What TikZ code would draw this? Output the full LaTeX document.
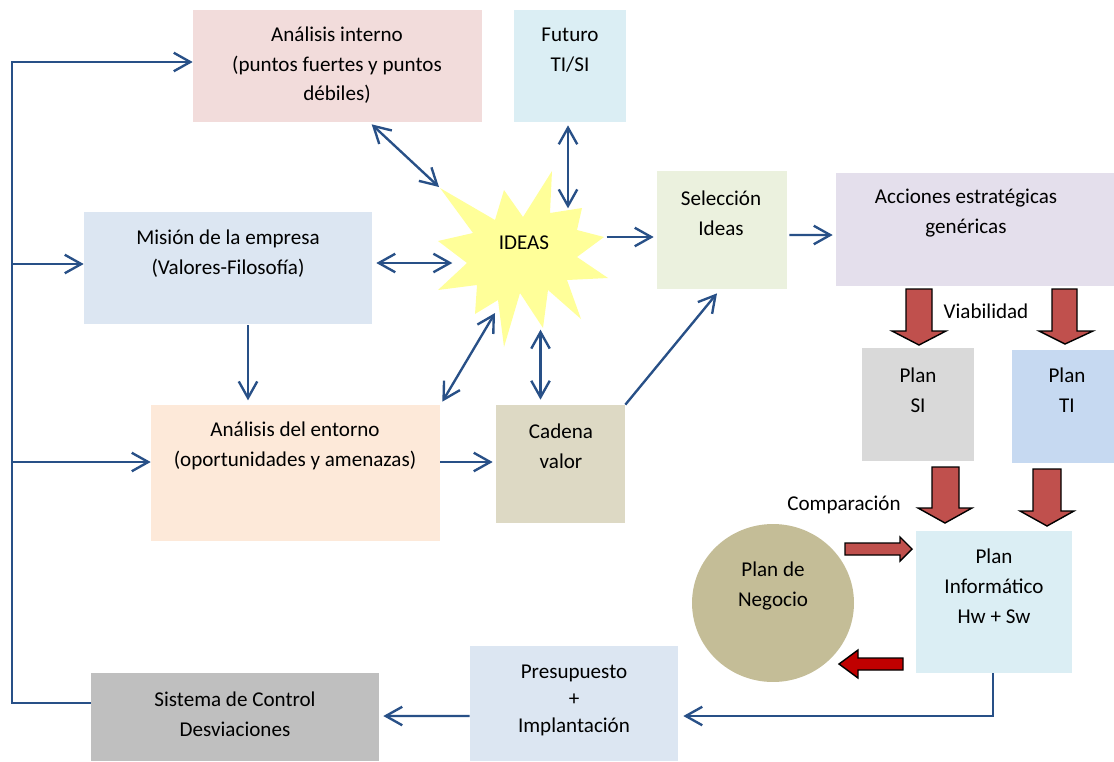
\documentclass[tikz,border=0pt]{standalone}
\usepackage{fontspec}
\setmainfont{Carlito}
\usetikzlibrary{arrows.meta,calc,shapes.geometric}

\definecolor{cInterno}{HTML}{F2DCDB}
\definecolor{cFuturo}{HTML}{DBEEF4}
\definecolor{cMision}{HTML}{DCE6F2}
\definecolor{cSeleccion}{HTML}{EBF1DE}
\definecolor{cAcciones}{HTML}{E4DFEC}
\definecolor{cEntorno}{HTML}{FDE9D9}
\definecolor{cCadena}{HTML}{DDD9C4}
\definecolor{cPlanSI}{HTML}{D9D9D9}
\definecolor{cPlanTI}{HTML}{C6D9F1}
\definecolor{cNegocio}{HTML}{C4BD97}
\definecolor{cSistema}{HTML}{BFBFBF}
\definecolor{cStar}{HTML}{FFFF99}
\definecolor{linkblue}{RGB}{40,80,135}
\definecolor{blockred}{HTML}{C0504D}
\definecolor{blockdark}{HTML}{C00000}

\tikzset{
  box/.style={draw=none, inner sep=0pt, rectangle},
  lbl/.style={align=center, inner sep=0pt, yshift=-0.045cm, font=\fontsize{12}{17}\selectfont},
  conn/.style={draw=linkblue, line width=1.35pt},
  barb/.tip={Straight Barb[length=0.33cm,width=0.37cm]},
  arr/.style={conn, -barb},
  darr/.style={conn, barb-barb},
  blk/.style={fill=blockred, draw=black, line width=0.8pt, line join=miter},
}

\begin{document}
\begin{tikzpicture}[x=0.02cm, y=-0.02cm]
\useasboundingbox (0,0) rectangle (1114,761);

% ---------- boxes ----------
\node[box, fill=cInterno,  minimum width=5.78cm, minimum height=2.24cm] (interno)     at (337.5,66)  {};
\node[box, fill=cFuturo,   minimum width=2.24cm, minimum height=2.24cm] (futuro)      at (570,66)    {};
\node[box, fill=cMision,   minimum width=5.76cm, minimum height=2.24cm] (mision)      at (228,268)   {};
\node[box, fill=cSeleccion,minimum width=2.60cm, minimum height=2.36cm] (seleccion)   at (722,230)   {};
\node[box, fill=cAcciones, minimum width=5.56cm, minimum height=2.26cm] (acciones)    at (975,229.5) {};
\node[box, fill=cEntorno,  minimum width=5.78cm, minimum height=2.72cm] (entorno)     at (295.5,473) {};
\node[box, fill=cCadena,   minimum width=2.58cm, minimum height=2.36cm] (cadena)      at (560.5,464) {};
\node[box, fill=cPlanSI,   minimum width=2.24cm, minimum height=2.26cm] (planSI)      at (918,404.5) {};
\node[box, fill=cPlanTI,   minimum width=2.04cm, minimum height=2.26cm] (planTI)      at (1063,406.5){};
\node[box, fill=cFuturo,   minimum width=3.12cm, minimum height=2.84cm] (informatico) at (994,602)   {};
\node[ellipse, fill=cNegocio, inner sep=0pt, minimum width=3.24cm, minimum height=3.16cm] (negocio) at (773,603) {};
\node[box, fill=cMision,   minimum width=4.16cm, minimum height=2.30cm] (presupuesto) at (574,703.5) {};
\node[box, fill=cSistema,  minimum width=5.76cm, minimum height=1.76cm] (sistema)     at (235,717)   {};

% ---------- IDEAS star ----------
\coordinate (sTL) at (440,188);
\coordinate (sBL) at (495,313);
\fill[cStar] (440,188) -- (495,220) -- (504,190) -- (523,217) -- (552,171) -- (550,213)
  -- (582,208) -- (577,230) -- (604,237) -- (577,257) -- (608,278) -- (567,280)
  -- (581,319) -- (548,290) -- (543,328) -- (520,293) -- (504,347) -- (498,300)
  -- (475,314) -- (477,285) -- (438,290) -- (467,263) -- (438,241) -- (473,233) -- cycle;
\node[lbl] (ideas) at (524,240) {IDEAS};

% ---------- texts ----------
\node[lbl] (tInterno)   at (337,63)  {Análisis interno\\(puntos fuertes y puntos\\débiles)};
\node[lbl] (tFuturo)    at (570,48)  {Futuro\\TI/SI};
\node[lbl] (tMision)    at (228,251) {Misión de la empresa\\(Valores-Filosofía)};
\node[lbl] (tSeleccion) at (721,211) {Selección\\Ideas};
\node[lbl] (tAcciones)  at (966,211) {Acciones estratégicas\\genéricas};
\node[lbl] (tEntorno)   at (295,444) {Análisis del entorno\\(oportunidades y amenazas)};
\node[lbl] (tCadena)    at (561,444) {Cadena\\valor};
\node[lbl] (tPlanSI)    at (918,388) {Plan\\SI};
\node[lbl] (tPlanTI)    at (1067,388){Plan\\TI};
\node[lbl] (tInform)    at (994,584) {Plan\\Informático\\Hw + Sw};
\node[lbl] (tNegocio)   at (773,584) {Plan de\\Negocio};
\node[lbl, font=\fontsize{12}{15.5}\selectfont] (tPresu) at (574,698) {Presupuesto\\+\\Implantación};
\node[lbl] (tSistema)   at (235,712) {Sistema de Control\\Desviaciones};
\node[lbl] (tViab)      at (986,309) {Viabilidad};
\node[lbl] (tComp)      at (844,503) {Comparación};

% ---------- feedback loop ----------
\coordinate (loopBot) at (12,703);
\coordinate (loopTop) at (12,62);
\coordinate (branchM) at (12,264);
\coordinate (branchE) at (12,462);
\draw[arr] ($(sistema.west)+(0,-14)$) -- (loopBot) -- (loopTop) -- (loopTop -| interno.west);
\draw[arr] (branchM) -- (branchM -| mision.west);
\draw[arr] (branchE) -- (branchE -| entorno.west);

% ---------- connectors around IDEAS ----------
\draw[darr] ($(interno.south west)+(179,2)$) -- ($(sTL)+(-1,-1)$);
\draw[darr] ($(futuro.south)+(-2,3)$) -- ($(futuro.south)+(-2,86)$);
\draw[darr] ($(mision.east)+(4,-5)$) -- ($(mision.east)+(80,-5)$);
\draw[arr]  ($(seleccion.west)+(-50,7)$) -- ($(seleccion.west)+(-3,7)$);
\draw[darr] ($(cadena.north)+(-20,-5)$) -- ($(cadena.north)+(-20,-75)$);
\draw[darr] ($(entorno.north east)+(2,-3)$) -- (sBL);

% ---------- other connectors ----------
\draw[arr] ($(seleccion.east)+(2,5)$) -- ($(acciones.west)+(-3,5.5)$);
\draw[arr] ($(mision.south)+(20,1)$) -- ($(mision.south)+(20,76)$);
\draw[arr] ($(entorno.east)+(0,-11)$) -- ($(cadena.west)+(-3,-2)$);
\draw[arr] (cadena.north east) -- ($(seleccion.south)+(-5,4)$);
\draw[arr] ($(informatico.south)+(-1,0)$) |- ($(presupuesto.east)+(5,12.5)$);
\draw[arr] ($(presupuesto.west)+(0,12.5)$) -- ($(sistema.east)+(4,-1)$);

% ---------- block arrows ----------
\draw[blk] (906,289) -- (932,289) -- (932,331) -- (946,331) -- (919,345) -- (892,331) -- (906,331) -- cycle;
\draw[blk] (1052,289) -- (1077,289) -- (1077,331) -- (1093,331) -- (1065,344) -- (1039,331) -- (1052,331) -- cycle;
\draw[blk] (932,467) -- (959,467) -- (959,508) -- (972,508) -- (945,523) -- (918,508) -- (932,508) -- cycle;
\draw[blk] (1033,469) -- (1061,469) -- (1061,511) -- (1074,511) -- (1047,526) -- (1020,511) -- (1033,511) -- cycle;
\draw[blk] (845,543) -- (900,543) -- (900,537) -- (912,549) -- (900,561) -- (900,555) -- (845,555) -- cycle;
\draw[blk, fill=blockdark] (839,664) -- (858,650) -- (858,658) -- (903,658) -- (903,670) -- (858,670) -- (858,678) -- cycle;
\end{tikzpicture}
\end{document}
